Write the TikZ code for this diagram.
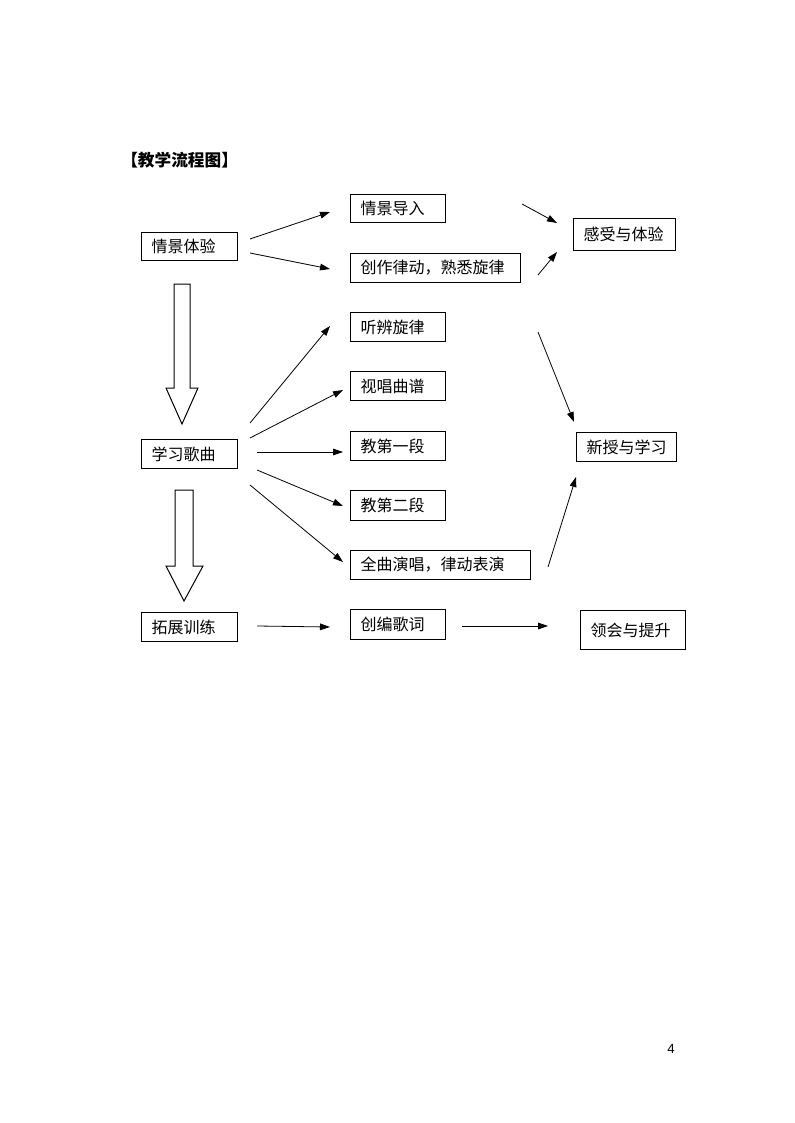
\documentclass[tikz,border=0pt]{standalone}
\usepackage{fontspec}
\setmainfont{Liberation Sans}
\newfontfamily\cjk{Noto Sans CJK SC}
\usetikzlibrary{arrows.meta}
\tikzset{
  box/.style={draw, line width=0.75pt, anchor=north west, inner xsep=7.5pt, inner ysep=0pt, align=left, font=\cjk\fontsize{12pt}{14pt}\selectfont},
  arr/.style={line width=0.6pt, -{Triangle[length=7.5pt,width=5pt]}},
  hollow/.style={draw, line width=0.75pt, fill=white}
}
\begin{document}
\begin{tikzpicture}[x=0.75pt,y=-0.75pt]
\useasboundingbox[fill=white] (0,0) rectangle (794,1123);
\node[anchor=west, font=\cjk\bfseries\fontsize{12.5pt}{14pt}\selectfont, inner sep=0pt] (title) at (121,160) {【教学流程图】};

\node[box, text width=56.25pt, minimum height=21pt] (qjdr) at (350,194) {情景导入};
\node[box, text width=57pt, minimum height=21pt] (qjty) at (141,232) {情景体验};
\node[box, text width=112.5pt, minimum height=21.75pt] (cz) at (350,253) {创作律动，熟悉旋律};
\node[box, text width=61.5pt, minimum height=24pt] (gs) at (573,218) {感受与体验};
\node[box, text width=56.25pt, minimum height=21.75pt] (tb) at (350,312) {听辨旋律};
\node[box, text width=56.25pt, minimum height=21.75pt] (sc) at (350,371) {视唱曲谱};
\node[box, text width=57pt, minimum height=21.75pt] (xxgq) at (141,439) {学习歌曲};
\node[box, text width=56.25pt, minimum height=21.75pt] (j1) at (350,431) {教第一段};
\node[box, text width=60pt, minimum height=21.75pt] (xs) at (576,432) {新授与学习};
\node[box, text width=56.25pt, minimum height=22.5pt] (j2) at (350,490) {教第二段};
\node[box, text width=120pt, minimum height=21.75pt] (qq) at (350,550) {全曲演唱，律动表演};
\node[box, text width=57pt, minimum height=21.75pt] (tz) at (141,612) {拓展训练};
\node[box, text width=56.25pt, minimum height=22.5pt] (cb) at (350,609) {创编歌词};
\node[box, text width=63.75pt, minimum height=29.25pt] (lh) at (580,610) {领会与提升};

\node[font=\fontsize{10pt}{12pt}\selectfont, inner sep=0pt] (pg) at (671,1049) {4};

% hollow arrows
\path[hollow] (174,284) -- (190,284) -- (190,388) -- (198,388) -- (182,424) -- (166,388) -- (174,388) -- cycle;
\path[hollow] (175,490) -- (193,490) -- (193,566) -- (203,566) -- (184,601) -- (166,566) -- (175,566) -- cycle;

% connector end points
\coordinate (a1) at (250,239); \coordinate (b1) at (330,212);
\coordinate (a2) at (250,253); \coordinate (b2) at (330,269);
\coordinate (a3) at (522,204); \coordinate (b3) at (557,223);
\coordinate (a4) at (538,275); \coordinate (b4) at (557,252);
\coordinate (a5) at (250,423); \coordinate (b5) at (330,326);
\coordinate (a6) at (250,438); \coordinate (b6) at (343,390);
\coordinate (a7) at (257,452); \coordinate (b7) at (343,452);
\coordinate (a8) at (257,470); \coordinate (b8) at (343,506);
\coordinate (a9) at (250,485); \coordinate (b9) at (343,562);
\coordinate (a10) at (538,332); \coordinate (b10) at (574,422);
\coordinate (a11) at (548,567); \coordinate (b11) at (576,477);
\coordinate (a12) at (257,626); \coordinate (b12) at (330,627);
\coordinate (a13) at (462,626); \coordinate (b13) at (548,626);

\foreach \i in {1,...,13} { \draw[arr] (a\i) -- (b\i); }
\end{tikzpicture}
\end{document}
